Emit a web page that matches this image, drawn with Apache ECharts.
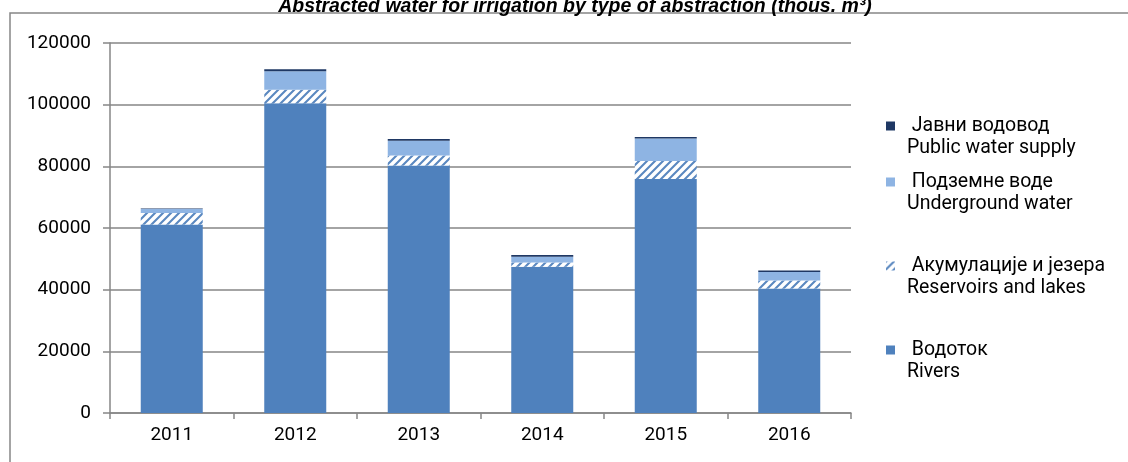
<!DOCTYPE html>
<html>
<head>
<meta charset="utf-8">
<script src="https://cdn.jsdelivr.net/npm/echarts@6/dist/echarts.min.js"></script>
<style>
  html, body { margin: 0; padding: 0; background: #fff; }
  #chart { width: 1128px; height: 462px; }
</style>
</head>
<body>
<div id="chart"></div>
<script>
// years on the x axis
const years = ['2011', '2012', '2013', '2014', '2015', '2016'];
// thous. m3 (bottom to top)
const rivers      = [61100, 100500, 80300, 47400, 75900, 40400];
const reservoirs  = [3800, 4300, 3200, 1400, 5800, 2600];
const underground = [1300, 6000, 4800, 1900, 7300, 2700];
const publicSupply = [150, 650, 550, 550, 550, 550];
// legend texts, top to bottom
const legendSr = ['Јавни водовод', 'Подземне воде', 'Акумулације и језера', 'Водоток'];
const legendEn = ['Public water supply', 'Underground water', 'Reservoirs and lakes', 'Rivers'];
const legendTop = [93, 149, 233, 317];

const FONT = 'Roboto';
const GRAY = '#868686';

// white with blue diagonal stripes
function hatch() {
  const c = document.createElement('canvas');
  c.width = 8; c.height = 8;
  const ctx = c.getContext('2d');
  ctx.fillStyle = '#fff';
  ctx.fillRect(0, 0, 8, 8);
  ctx.strokeStyle = '#5A88C0';
  ctx.lineWidth = 2.1;
  ctx.beginPath();
  ctx.moveTo(-2, 10); ctx.lineTo(10, -2);
  ctx.moveTo(-6, 6); ctx.lineTo(6, -6);
  ctx.moveTo(2, 14); ctx.lineTo(14, 2);
  ctx.stroke();
  return c;
}

const chart = echarts.init(document.getElementById('chart'));

const legends = legendSr.map((name, i) => ({
  orient: 'vertical',
  left: 886,
  top: legendTop[i],
  padding: 0,
  icon: 'rect',
  itemWidth: 9,
  itemHeight: 9,
  itemGap: 0,
  data: [name],
  selectedMode: false,
  formatter: n => ' \n ' + n + '\n' + legendEn[legendSr.indexOf(n)],
  textStyle: { fontFamily: FONT, fontSize: 19.5, color: '#000', lineHeight: 22, padding: [0, 0, 0, 7] }
}));

const option = {
  animation: false,
  title: {
    text: 'Abstracted water for irrigation by type of abstraction (thous. m³)',
    left: 570,
    top: -8,
    textAlign: 'center',
    textStyle: { fontFamily: 'Liberation Sans', fontStyle: 'italic', fontWeight: 'bold', fontSize: 19.5, color: '#000' }
  },
  graphic: [{
    type: 'rect',
    shape: { x: 10, y: 13, width: 1130, height: 460 },
    style: { fill: 'none', stroke: GRAY, lineWidth: 1.5 },
    silent: true
  }],
  legend: legends,
  grid: { left: 110, right: 277, top: 43, bottom: 49 },
  xAxis: {
    type: 'category',
    data: years,
    axisLine: { lineStyle: { color: GRAY, width: 1.5 } },
    axisTick: { show: true, length: 6, lineStyle: { color: GRAY, width: 1.5 } },
    axisLabel: { color: '#000', fontFamily: FONT, fontSize: 19, margin: 13 }
  },
  yAxis: {
    type: 'value',
    min: 0,
    max: 120000,
    interval: 20000,
    axisLine: { show: true, lineStyle: { color: GRAY, width: 1.5 } },
    axisTick: { show: true, length: 7, lineStyle: { color: GRAY, width: 1.5 } },
    axisLabel: { color: '#000', fontFamily: FONT, fontSize: 19, margin: 19, formatter: v => String(v) },
    splitLine: { lineStyle: { color: GRAY, width: 1.5 } }
  },
  series: [
    { name: 'Водоток', type: 'bar', stack: 'total', barWidth: 62, data: rivers,
      itemStyle: { color: '#4F81BD' } },
    { name: 'Акумулације и језера', type: 'bar', stack: 'total', barWidth: 62, data: reservoirs,
      itemStyle: { color: { image: hatch(), repeat: 'repeat' } } },
    { name: 'Подземне воде', type: 'bar', stack: 'total', barWidth: 62, data: underground,
      itemStyle: { color: '#8EB4E3' } },
    { name: 'Јавни водовод', type: 'bar', stack: 'total', barWidth: 62, data: publicSupply,
      itemStyle: { color: '#1F3864' } }
  ]
};

chart.setOption(option);
</script>
</body>
</html>
